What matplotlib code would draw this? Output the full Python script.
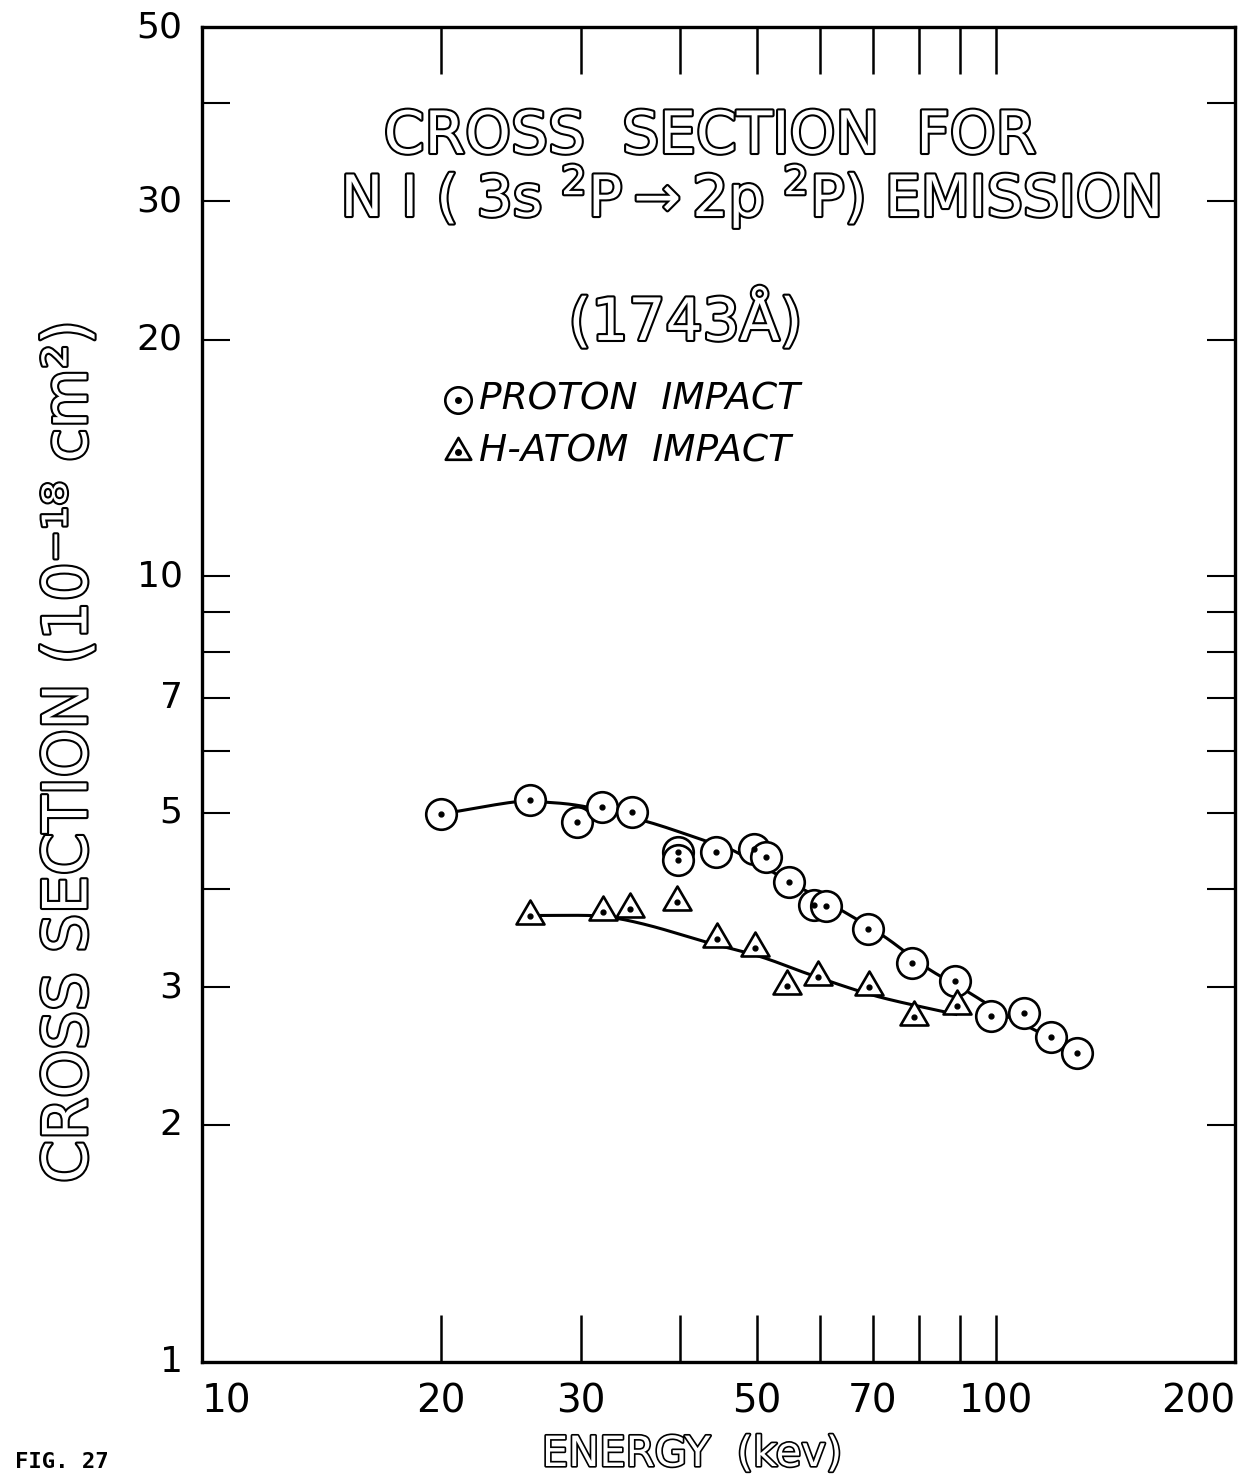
import numpy as np
import matplotlib
matplotlib.use("Agg")
import matplotlib.pyplot as plt
from matplotlib.path import Path
import matplotlib.patheffects as pe
from matplotlib import font_manager

# ---------------- data ----------------
proton_E = [20, 25.9, 29.7, 31.9, 34.8, 39.8, 39.8, 44.4, 49.6, 51.3, 54.8,
            59.0, 61.1, 69.0, 78.3, 88.8, 98.6, 108.6, 117.3, 126.5]
proton_S = [4.98, 5.19, 4.87, 5.08, 5.01, 4.46, 4.35, 4.46, 4.49, 4.39, 4.08,
            3.82, 3.81, 3.56, 3.22, 3.05, 2.76, 2.78, 2.59, 2.47]

hatom_E = [25.9, 32.0, 34.6, 39.6, 44.5, 49.7, 54.5, 59.6, 69.2, 78.9, 89.3]
hatom_S = [3.70, 3.74, 3.77, 3.85, 3.45, 3.36, 3.01, 3.09, 3.00, 2.75, 2.84]

# hand-drawn smooth curves
proton_curve_E = [20, 24.7, 26.9, 30.4, 36.4, 42.9, 46.8, 56.8, 63.8, 72.3,
                  82.0, 92.1, 102.9, 110.7, 122.0, 126.5]
proton_curve_S = [4.98, 5.16, 5.16, 5.09, 4.87, 4.61, 4.47, 4.01, 3.76, 3.48,
                  3.17, 2.96, 2.76, 2.66, 2.53, 2.47]
hatom_curve_E = [25.9, 30.85, 33.3, 37.1, 43.3, 50.5, 57.9, 66.9, 73.7, 86.1, 89.0]
hatom_curve_S = [3.70, 3.70, 3.67, 3.58, 3.42, 3.28, 3.12, 2.97, 2.89, 2.79, 2.77]

x_ticks = [20, 30, 40, 50, 60, 70, 80, 90, 100]
x_ticklabels = ["10", "20", "30", "50", "70", "100", "200"]
x_labelpos = [10, 20, 30, 50, 70, 100, 200]
y_ticks = [2, 3, 4, 5, 6, 7, 8, 9, 10, 20, 30, 40]
y_labelpos = [1, 2, 3, 5, 7, 10, 20, 30, 50]
y_ticklabels = ["1", "2", "3", "5", "7", "10", "20", "30", "50"]


def catmull(xs, ys, n=20):
    lx, ly = np.log10(xs), np.log10(ys)
    P = np.column_stack([lx, ly])
    P = np.vstack([P[0] - (P[1] - P[0]), P, P[-1] + (P[-1] - P[-2])])
    out = []
    for i in range(1, len(P) - 2):
        p0, p1, p2, p3 = P[i - 1], P[i], P[i + 1], P[i + 2]
        t = np.linspace(0, 1, n, endpoint=False)[:, None]
        seg = 0.5 * ((2 * p1) + (-p0 + p2) * t + (2 * p0 - 5 * p1 + 4 * p2 - p3) * t ** 2
                     + (-p0 + 3 * p1 - 3 * p2 + p3) * t ** 3)
        out.append(seg)
    out.append(P[-2][None, :])
    out = np.vstack(out)
    return 10 ** out[:, 0], 10 ** out[:, 1]


names = {f.name for f in font_manager.fontManager.ttflist}
NARROW = "Liberation Sans Narrow" if "Liberation Sans Narrow" in names else "DejaVu Sans"
plt.rcParams["font.family"] = ["DejaVu Sans"]
plt.rcParams["mathtext.default"] = "regular"

fig = plt.figure(figsize=(12.45, 14.82), dpi=100)
ax = fig.add_axes([202 / 1245, 1 - 1362 / 1482, (1235 - 202) / 1245, (1362 - 27) / 1482])
ax.set_xscale("log")
ax.set_yscale("log")
ax.set_xlim(10, 200)
ax.set_ylim(1, 50)

for s in ax.spines.values():
    s.set_linewidth(2.4)

# curves
cx, cy = catmull(proton_curve_E, proton_curve_S)
ax.plot(cx, cy, color="black", lw=2.2, zorder=2)
hx, hy = catmull(hatom_curve_E, hatom_curve_S)
ax.plot(hx, hy, color="black", lw=2.2, zorder=2)

tri = Path([(0, 16), (-14, -8), (14, -8), (0, 0)], closed=True)

ax.plot(proton_E, proton_S, ls="none", marker="o", ms=22, mfc="white", mec="black",
        mew=1.9, zorder=3)
ax.plot(proton_E, proton_S, ls="none", marker="o", ms=3.5, mfc="black", mec="black", zorder=4)
ax.plot(hatom_E, hatom_S, ls="none", marker=tri, ms=23, mfc="white", mec="black",
        mew=1.9, zorder=3)
ax.plot(hatom_E, hatom_S, ls="none", marker="o", ms=3.5, mfc="black", mec="black", zorder=4)

# ticks
ax.xaxis.set_minor_locator(matplotlib.ticker.NullLocator())
ax.yaxis.set_minor_locator(matplotlib.ticker.NullLocator())
ax.set_xticks(x_ticks)
ax.set_xticklabels([""] * len(x_ticks))
ax.set_yticks(y_ticks)
ax.set_yticklabels([""] * len(y_ticks))
ax.tick_params(axis="x", which="major", direction="in", length=34, width=1.8,
               top=True, bottom=True)
ax.tick_params(axis="y", which="major", direction="in", length=20, width=1.5,
               left=True, right=True)

for v, lab in zip(x_labelpos, x_ticklabels):
    ha = "center"
    if v == 10:
        ha = "left"
    elif v == 200:
        ha = "right"
    ax.annotate(lab, xy=(v, 0), xycoords=("data", "axes fraction"), xytext=(0, -15),
                textcoords="offset points", ha=ha, va="top", fontsize=28)
for v, lab in zip(y_labelpos, y_ticklabels):
    ax.annotate(lab, xy=(0, v), xycoords=("axes fraction", "data"), xytext=(-14, 0),
                textcoords="offset points", ha="right", va="center", fontsize=26)

hollow = [pe.withStroke(linewidth=3.0, foreground="black")]
hollow_thin = [pe.withStroke(linewidth=2.4, foreground="black")]

# title block
ax.text(0.492, 0.918, "CROSS  SECTION  FOR", transform=ax.transAxes, ha="center",
        va="center", fontsize=42, color="white", path_effects=hollow)
ax.text(0.531, 0.873, r"N I ( 3s $^{2}$P$\rightarrow$2p $^{2}$P) EMISSION",
        transform=ax.transAxes, ha="center", va="center", fontsize=41, color="white",
        path_effects=hollow)
ax.text(0.468, 0.780, "(1743Å)", transform=ax.transAxes, ha="center", va="center",
        fontsize=42, color="white", path_effects=hollow)

# legend
lx = (458 - 202) / 1033
ax.plot([lx], [(1362 - 400) / 1335], transform=ax.transAxes, marker="o", ms=19,
        mfc="white", mec="black", mew=1.9, clip_on=False)
ax.plot([lx], [(1362 - 400) / 1335], transform=ax.transAxes, marker="o", ms=4,
        color="black", clip_on=False)
ax.plot([lx], [(1362 - 452) / 1335], transform=ax.transAxes, marker=tri, ms=21,
        mfc="white", mec="black", mew=1.9, clip_on=False)
ax.plot([lx], [(1362 - 452) / 1335], transform=ax.transAxes, marker="o", ms=4,
        color="black", clip_on=False)
ax.text((479 - 202) / 1033, (1362 - 400) / 1335, "PROTON  IMPACT", transform=ax.transAxes,
        ha="left", va="center", fontsize=27, style="italic")
ax.text((479 - 202) / 1033, (1362 - 452) / 1335, "H-ATOM  IMPACT", transform=ax.transAxes,
        ha="left", va="center", fontsize=27, style="italic")

# axis labels
fig.text(70 / 1245, 1 - 752 / 1482, "CROSS SECTION (10⁻¹⁸ cm²)", rotation=90,
         ha="center", va="center", fontsize=44, color="white", path_effects=hollow,
         family=[NARROW, "DejaVu Sans"])
fig.text(692 / 1245, 1 - 1454 / 1482, "ENERGY  (kev)", ha="center", va="center",
         fontsize=30, color="white", path_effects=hollow_thin, family=[NARROW, "DejaVu Sans"])
fig.text(15 / 1245, 1 - 1462 / 1482, "FIG. 27", ha="left", va="center", fontsize=16,
         fontweight="bold", family=["DejaVu Sans Mono"])

fig.savefig("out.png", dpi=100)
